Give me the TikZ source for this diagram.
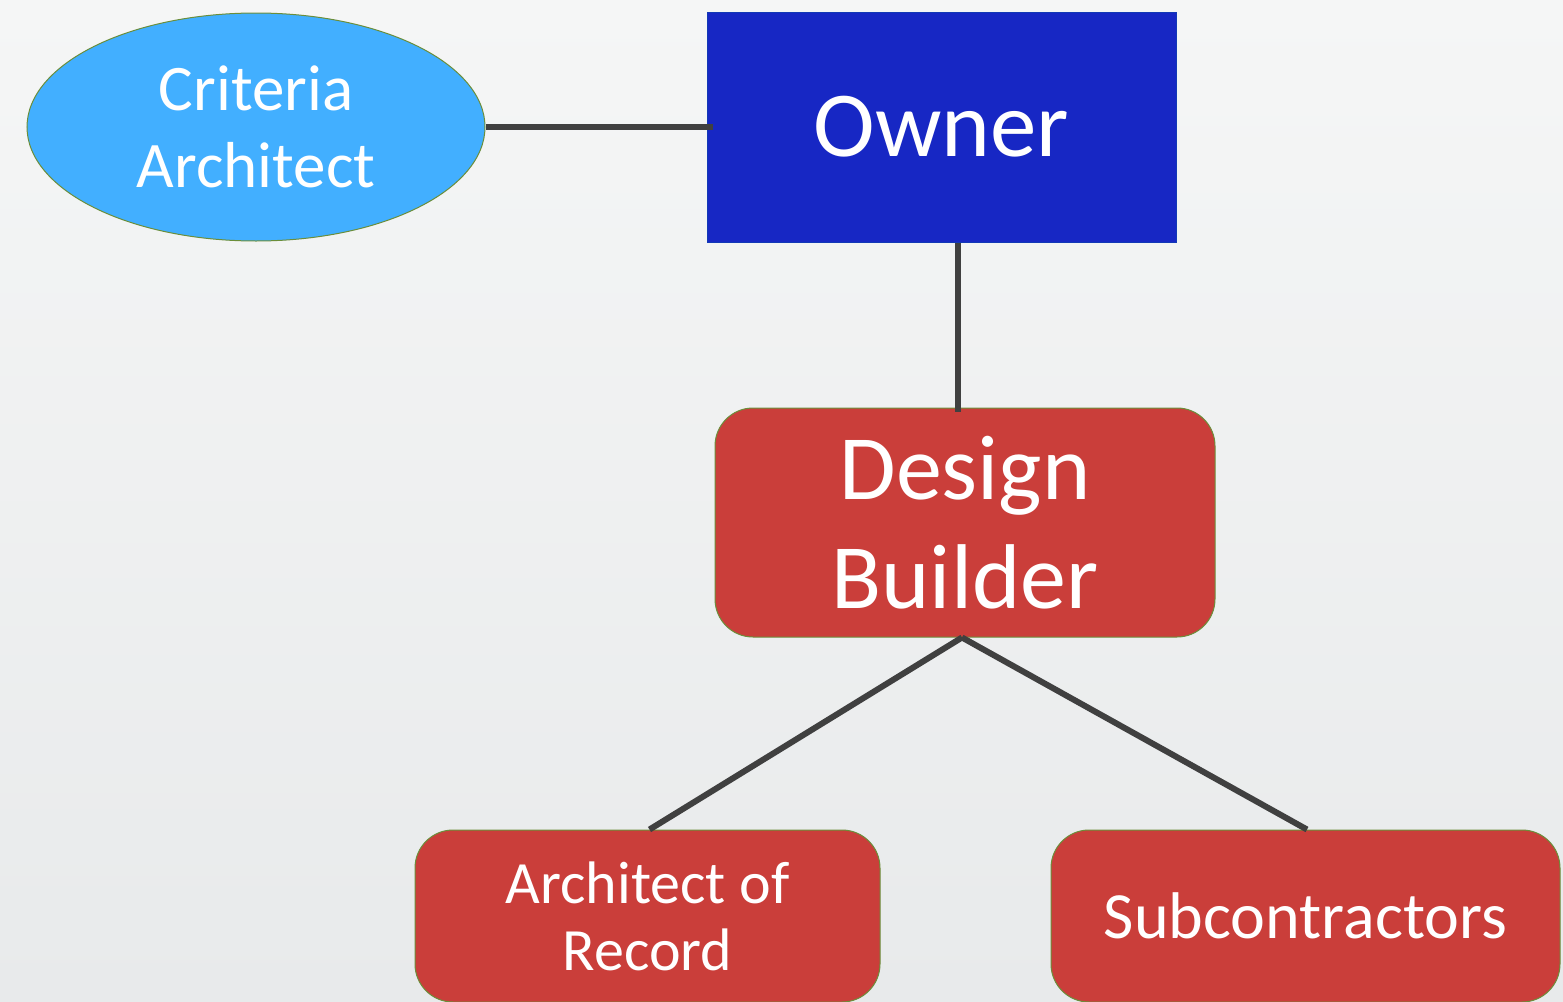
\documentclass[tikz,border=0pt]{standalone}
\usepackage{fontspec}
\setmainfont{Carlito}
\usetikzlibrary{shapes.geometric}
\definecolor{bgtop}{HTML}{F5F6F6}
\definecolor{bgbot}{HTML}{E8EAEB}
\definecolor{skyfill}{HTML}{42AFFF}
\definecolor{ownerfill}{HTML}{1727C4}
\definecolor{redfill}{HTML}{CA3E3A}
\definecolor{olive}{HTML}{6B8E3A}
\definecolor{linkgray}{HTML}{404040}
\tikzset{
  textw/.style={text=white, align=center, inner sep=0pt},
  critbox/.style={ellipse, fill=skyfill, draw=olive, line width=1pt, textw,
    minimum width=458pt, minimum height=228pt},
  ownerbox/.style={rectangle, fill=ownerfill, draw=ownerfill!80!teal, line width=1pt, textw,
    minimum width=469pt, minimum height=230pt},
  redbox/.style={rectangle, rounded corners=38pt, fill=redfill, draw=olive, line width=1pt, textw},
  link/.style={draw=linkgray, line width=6pt}
}
\begin{document}
\begin{tikzpicture}[x=1pt, y=-1pt]
  \useasboundingbox (0,0) rectangle (1563,1001);
  \clip (0,0) rectangle (1563,1001);
  % page background
  \shade[top color=bgtop, bottom color=bgbot] (0,0) rectangle (1563,1001);

  % nodes
  \node[critbox, font=\fontsize{65}{77}\selectfont] (crit) at (256,127)
    {Criteria\\Architect};
  \node[ownerbox, font=\fontsize{93}{108}\selectfont] (owner) at (941.5,127)
    {Owner};
  \node[redbox, minimum width=500pt, minimum height=229pt,
        font=\fontsize{92}{108.5}\selectfont] (db) at (965,522.5)
    {Design\\Builder};
  \node[redbox, minimum width=465pt, minimum height=172pt,
        font=\fontsize{60}{67}\selectfont] (aor) at (647.5,916)
    {Architect of\\Record};
  \node[redbox, minimum width=509pt, minimum height=172pt,
        font=\fontsize{66}{77}\selectfont] (sub) at (1305.5,916)
    {Subcontractors};

  % connectors
  \draw[link] (crit.east) -- ([xshift=6pt]owner.west);
  \draw[link] ([xshift=16.5pt]owner.south) -- ([xshift=-7pt,yshift=-4pt]db.north);
  \draw[link] ([xshift=-3pt]db.south) -- ([xshift=2pt]aor.north);
  \draw[link] ([xshift=-3pt]db.south) -- ([xshift=1.5pt]sub.north);
\end{tikzpicture}
\end{document}
